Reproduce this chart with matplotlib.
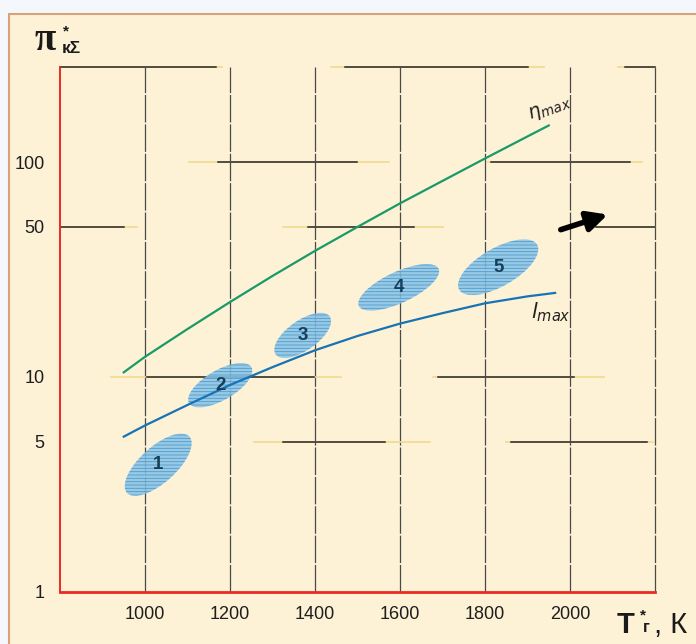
import matplotlib
matplotlib.use('Agg')
from matplotlib import pyplot
from matplotlib.patches import Ellipse, Rectangle
from matplotlib.transforms import ScaledTranslation
from matplotlib.ticker import NullLocator

# curves
eta_T = [950, 1000, 1100, 1200, 1300, 1400, 1500, 1600, 1700, 1800, 1900, 1950]
eta_pi = [10.5, 12.4, 16.7, 22.3, 29.5, 38.6, 49.9, 64.2, 81.7, 103.9, 131.6, 148.0]
l_T = [950, 1000, 1100, 1200, 1300, 1400, 1500, 1600, 1700, 1800, 1900, 1965]
l_pi = [5.27, 5.94, 7.40, 9.17, 11.1, 13.3, 15.5, 17.7, 19.8, 22.0, 23.7, 24.6]

# shaded zones 1..5
zone_names = ['1', '2', '3', '4', '5']
zone_T = [1031, 1177, 1371, 1597, 1831]
zone_pi = [3.9, 9.15, 15.6, 26.1, 32.4]
zone_len = [84, 72, 66, 88, 90]   # pixels
zone_wid = [36, 30, 30, 31, 38]
zone_ang = [42, 30, 35, 25, 30]

x_ticks = [1000, 1200, 1400, 1600, 1800, 2000]
y_ticks = [1, 5, 10, 50, 100]
grid_x = [1000, 1200, 1400, 1600, 1800, 2000, 2200]

# broken horizontal grid pieces: y, dark x0, dark x1, faint x0, faint x1
grid_pieces = [
    (277, 800, 1166, 800, 1180), (277, 1470, 1900, 1437, 1938), (277, 2130, 2200, 2112, 2200),
    (100, 1172, 1498, 1104, 1575), (100, 1815, 2140, 1805, 2170),
    (50, 800, 950, 800, 980), (50, 1383, 1632, 1325, 1700), (50, 2060, 2200, 2045, 2200),
    (10, 1004, 1398, 920, 1460), (10, 1690, 2010, 1677, 2080),
    (5, 1325, 1565, 1257, 1670), (5, 1860, 2180, 1850, 2195),
]

arrow_tail = (1972, 48.0)
arrow_head = (2095, 57.5)

pyplot.rcParams['font.family'] = ['Liberation Sans', 'DejaVu Sans']
pyplot.rcParams['hatch.linewidth'] = 0.6

fig = pyplot.figure(figsize=(6.96, 6.44), dpi=100)
fig.patch.set_facecolor('#f4f8fc')
panel = Rectangle((9 / 696, -0.01), 1.0, (644 - 14) / 644 + 0.01, transform=fig.transFigure,
                  facecolor='#fdf1d6', edgecolor='#d9a27c', linewidth=1.5, zorder=-5)
fig.add_artist(panel)

ax = fig.add_axes([60 / 696, (644 - 591.7) / 644, 595 / 696, (591.7 - 67) / 644])
ax.patch.set_visible(False)
ax.set_yscale('log')
ax.set_xlim(800, 2200)
ax.set_ylim(1, 277)

for gx in grid_x:
    ax.plot([gx, gx], [1, 277], color='#4a4a4a', lw=0.9, ls=(0, (22, 1.5)), zorder=1, clip_on=False)
for gy, x0, x1, lx0, lx1 in grid_pieces:
    ax.plot([lx0, lx1], [gy, gy], color='#f1d98e', lw=1.2, zorder=1, clip_on=False)
    ax.plot([x0, x1], [gy, gy], color='#262626', lw=1.1, zorder=1, clip_on=False)

for i in range(len(zone_names)):
    tr = fig.dpi_scale_trans + ScaledTranslation(zone_T[i], zone_pi[i], ax.transData)
    e = Ellipse((0, 0), zone_len[i] / 100, zone_wid[i] / 100, angle=zone_ang[i], transform=tr,
                facecolor='#86c4e9', edgecolor='#4690c6', linewidth=0, alpha=0.85, hatch='-----', zorder=2)
    ax.add_patch(e)
    ax.text(zone_T[i], zone_pi[i], zone_names[i], ha='center', va='center', fontsize=13.5,
            fontweight='bold', color='#163f5a', zorder=4)

ax.plot(eta_T, eta_pi, color='#1a9a68', lw=1.6, zorder=3)
ax.plot(l_T, l_pi, color='#1673b4', lw=1.6, zorder=3)

ax.text(1952, 178, r'$\eta_{max}$', fontsize=14, rotation=20, ha='center', va='center', color='#222222')
ax.text(1956, 20.0, r'$\mathit{l}_{max}$', fontsize=15, ha='center', va='center', color='#222222')

ax.annotate('', xy=arrow_head, xytext=arrow_tail,
            arrowprops=dict(arrowstyle='-|>', lw=4, color='black', mutation_scale=30), zorder=5)

for s in ['top', 'right']:
    ax.spines[s].set_visible(False)
for s in ['left', 'bottom']:
    ax.spines[s].set_color('#ec2a22')
ax.spines['left'].set_linewidth(1.4)
ax.spines['bottom'].set_linewidth(2.0)

ax.yaxis.set_minor_locator(NullLocator())
ax.set_xticks(x_ticks)
ax.set_xticklabels([str(v) for v in x_ticks])
ax.set_yticks(y_ticks)
ax.set_yticklabels([str(v) for v in y_ticks])
ax.tick_params(length=0, labelsize=13, labelcolor='#1e1e1e')
ax.tick_params(axis='x', pad=10)
ax.tick_params(axis='y', pad=11)

# axis titles
fig.text(35 / 696, 1 - 50 / 644, 'π', fontsize=28, fontweight='bold',
         family=['Liberation Serif', 'DejaVu Serif'], color='#1a1a1a', ha='left', va='baseline')
fig.text(63 / 696, 1 - 35 / 644, '*', fontsize=11, fontweight='bold', color='#1a1a1a',
         ha='left', va='baseline')
fig.text(62 / 696, 1 - 53 / 644, 'кΣ', fontsize=12.5, fontweight='bold', color='#1a1a1a',
         ha='left', va='baseline')

fig.text(617 / 696, 1 - 633 / 644, 'T', fontsize=21, fontweight='bold', color='#1a1a1a',
         ha='left', va='baseline')
fig.text(640 / 696, 1 - 619 / 644, '*', fontsize=11, fontweight='bold', color='#1a1a1a',
         ha='left', va='baseline')
fig.text(643 / 696, 1 - 632 / 644, 'г', fontsize=12, fontweight='bold', color='#1a1a1a',
         ha='left', va='baseline')
fig.text(654 / 696, 1 - 633 / 644, ', К', fontsize=21, color='#1a1a1a',
         ha='left', va='baseline')

fig.savefig('out.png', dpi=100, facecolor=fig.get_facecolor())
